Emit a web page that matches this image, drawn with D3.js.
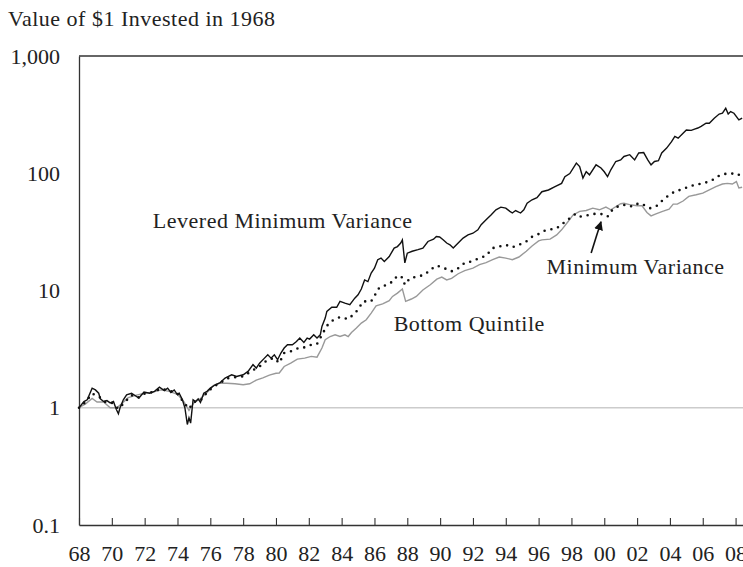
<!DOCTYPE html>
<html>
<head>
<meta charset="utf-8">
<script src="https://cdn.jsdelivr.net/npm/d3@7"></script>
<style>
  body { margin: 0; background: #fff; }
  text { font-family: "Liberation Serif", serif; fill: #222; }
</style>
</head>
<body>
<div id="chart_div"></div>
<script>
// values, [year, value of $1]
var levered = [
  [1968.0, 1.0], [1968.3, 1.13], [1968.5, 1.17], [1968.8, 1.47], [1969.0, 1.42], [1969.2, 1.33],
  [1969.3, 1.19], [1969.5, 1.13], [1969.7, 1.15], [1969.9, 1.10], [1970.1, 1.13], [1970.27, 0.97],
  [1970.4, 0.89], [1970.5, 1.0], [1970.7, 1.17], [1970.9, 1.29], [1971.2, 1.33], [1971.65, 1.21],
  [1971.96, 1.36], [1972.3, 1.33], [1972.6, 1.38], [1972.9, 1.50], [1973.2, 1.40], [1973.4, 1.47],
  [1973.6, 1.35], [1973.8, 1.42], [1974.0, 1.29], [1974.1, 1.33], [1974.3, 1.17], [1974.45, 1.0],
  [1974.6, 0.72], [1974.7, 0.82], [1974.8, 0.74], [1974.95, 1.17], [1975.1, 1.13], [1975.26, 1.19],
  [1975.4, 1.11], [1975.6, 1.33], [1975.8, 1.38], [1976.0, 1.47], [1976.3, 1.57], [1976.6, 1.64],
  [1976.9, 1.79], [1977.3, 1.91], [1977.6, 1.85], [1978.0, 1.91], [1978.3, 2.04], [1978.6, 2.33],
  [1978.8, 2.18], [1979.0, 2.4], [1979.3, 2.65], [1979.5, 2.83], [1979.7, 2.65], [1979.9, 2.83],
  [1980.1, 2.57], [1980.3, 2.93], [1980.5, 3.23], [1980.7, 3.45], [1981.0, 3.45], [1981.25, 3.67],
  [1981.45, 3.93], [1981.7, 3.6], [1981.9, 3.93], [1982.05, 3.85], [1982.3, 4.19], [1982.5, 3.93],
  [1982.7, 4.19], [1982.8, 4.94], [1983.0, 5.82], [1983.1, 6.63], [1983.4, 7.2], [1983.7, 7.2],
  [1983.9, 8.07], [1984.2, 7.8], [1984.5, 7.56], [1984.8, 8.6], [1985.0, 9.2], [1985.2, 10.3],
  [1985.4, 12.3], [1985.6, 11.9], [1985.8, 14.1], [1986.0, 15.5], [1986.2, 18.3], [1986.4, 18.9],
  [1986.6, 17.7], [1986.9, 19.5], [1987.2, 23], [1987.4, 23.7], [1987.6, 25.4], [1987.7, 27],
  [1987.85, 17.2], [1988.0, 20.8], [1988.3, 21.6], [1988.65, 22.3], [1988.95, 23], [1989.26, 26.2],
  [1989.6, 27.4], [1989.77, 28.9], [1989.97, 28.6], [1990.2, 27], [1990.4, 25.4], [1990.6, 24.5],
  [1990.8, 23], [1991.1, 25.4], [1991.4, 28], [1991.7, 29.8], [1992.0, 30.8], [1992.3, 32.9],
  [1992.5, 36.4], [1992.8, 40.1], [1993.1, 44.1], [1993.4, 48.8], [1993.7, 51.4], [1994.0, 50.4],
  [1994.25, 47.3], [1994.4, 45.8], [1994.6, 48.1], [1994.9, 45.8], [1995.1, 48.8], [1995.3, 55.5],
  [1995.6, 59.4], [1995.9, 62], [1996.2, 69.6], [1996.6, 72], [1997.0, 77], [1997.4, 82],
  [1997.6, 93.5], [1997.9, 99.5], [1998.3, 122], [1998.5, 114], [1998.7, 91], [1998.9, 103],
  [1999.1, 97], [1999.5, 118], [1999.8, 111], [2000.0, 103], [2000.2, 93.5], [2000.4, 107],
  [2000.7, 126], [2001.0, 130], [2001.2, 139], [2001.55, 144], [2001.85, 130], [2002.1, 149],
  [2002.4, 150], [2002.65, 130], [2002.85, 118], [2003.06, 126], [2003.3, 128], [2003.5, 149],
  [2003.8, 164], [2004.1, 186], [2004.3, 206], [2004.5, 199], [2004.8, 219], [2005.0, 234],
  [2005.3, 232], [2005.5, 238], [2005.7, 243], [2005.9, 251], [2006.2, 267], [2006.4, 267],
  [2006.7, 295], [2007.0, 320], [2007.2, 325], [2007.4, 358], [2007.55, 320], [2007.7, 336],
  [2007.9, 325], [2008.2, 285], [2008.4, 295]
];

var minVariance = [
  [1968.0, 1.0], [1968.4, 1.12], [1968.8, 1.32], [1969.2, 1.25], [1969.6, 1.12], [1970.0, 1.1],
  [1970.4, 0.98], [1970.8, 1.12], [1971.2, 1.28], [1971.6, 1.22], [1972.0, 1.32], [1972.5, 1.36],
  [1973.0, 1.45], [1973.5, 1.4], [1974.0, 1.32], [1974.4, 1.1], [1974.7, 0.98], [1975.0, 1.12],
  [1975.4, 1.15], [1975.8, 1.35], [1976.2, 1.52], [1976.6, 1.62], [1977.0, 1.78], [1977.5, 1.82],
  [1978.0, 1.85], [1978.5, 2.05], [1979.0, 2.25], [1979.5, 2.57], [1979.9, 2.65], [1980.2, 2.4],
  [1980.5, 2.93], [1981.0, 3.06], [1981.45, 3.27], [1981.75, 3.27], [1982.15, 3.45], [1982.5, 3.5],
  [1982.7, 3.93], [1983.1, 5.0], [1983.5, 5.63], [1983.9, 5.93], [1984.4, 5.7], [1984.7, 6.21],
  [1985.0, 6.85], [1985.3, 8.07], [1985.8, 8.07], [1986.3, 10.6], [1986.7, 11.1], [1987.1, 11.9],
  [1987.4, 13.4], [1987.7, 12.9], [1987.85, 11.2], [1988.15, 12.7], [1988.55, 13.1], [1989.05, 13.6],
  [1989.45, 15.2], [1989.8, 16.3], [1990.25, 15.5], [1990.7, 14.6], [1991.1, 15.5], [1991.5, 17.2],
  [1991.9, 17.7], [1992.4, 18.9], [1992.8, 19.8], [1993.2, 23], [1993.6, 23.7], [1994.0, 24.5],
  [1994.4, 23.4], [1994.8, 24.5], [1995.25, 26.2], [1995.6, 28.7], [1996.0, 30.3], [1996.4, 32.5],
  [1997.1, 34], [1997.5, 37.5], [1997.9, 41.4], [1998.25, 45], [1998.5, 42.7], [1998.8, 43.3],
  [1999.1, 44.1], [1999.4, 45], [1999.8, 45], [2000.2, 42.7], [2000.5, 48.8], [2000.9, 52.8],
  [2001.3, 53.8], [2001.7, 52], [2002.1, 55.5], [2002.4, 53.8], [2002.8, 50.4], [2003.2, 52.8],
  [2003.6, 59.7], [2004.0, 66], [2004.4, 71], [2004.75, 72.6], [2005.15, 77], [2005.6, 80],
  [2006.1, 82.6], [2006.55, 86.8], [2007.0, 95.3], [2007.4, 99], [2007.7, 99], [2008.05, 100],
  [2008.4, 93]
];

var bottomQuintile = [
  [1968.0, 1.0], [1968.4, 1.08], [1968.8, 1.2], [1969.1, 1.12], [1969.5, 1.12], [1969.9, 1.0],
  [1970.3, 1.0], [1970.6, 1.08], [1971.0, 1.22], [1971.5, 1.28], [1972.0, 1.33], [1972.5, 1.36],
  [1973.0, 1.42], [1973.5, 1.38], [1974.0, 1.3], [1974.4, 1.12], [1974.7, 0.95], [1975.0, 1.1],
  [1975.4, 1.2], [1975.8, 1.35], [1976.2, 1.55], [1976.6, 1.62], [1977.0, 1.62], [1977.5, 1.6],
  [1978.0, 1.57], [1978.4, 1.6], [1978.8, 1.72], [1979.2, 1.8], [1979.6, 1.9], [1980.0, 1.97],
  [1980.2, 1.98], [1980.5, 2.25], [1980.9, 2.4], [1981.3, 2.6], [1981.75, 2.65], [1982.15, 2.74],
  [1982.5, 2.7], [1982.8, 3.23], [1983.0, 3.8], [1983.3, 4.05], [1983.6, 4.19], [1983.9, 4.05],
  [1984.2, 4.19], [1984.4, 4.05], [1984.6, 4.38], [1984.9, 4.78], [1985.2, 5.27], [1985.5, 5.63],
  [1985.8, 6.42], [1986.1, 7.4], [1986.5, 7.7], [1986.9, 8.2], [1987.1, 8.9], [1987.4, 9.5],
  [1987.7, 10.3], [1987.9, 8.07], [1988.25, 8.46], [1988.55, 8.9], [1988.95, 10.1], [1989.4, 11.2],
  [1989.8, 12.5], [1990.1, 13.0], [1990.4, 12.3], [1990.7, 12.7], [1991.1, 13.9], [1991.5, 14.8],
  [1992.0, 15.5], [1992.4, 16.6], [1992.8, 17.3], [1993.2, 18.3], [1993.6, 19.3], [1994.0, 18.9],
  [1994.4, 18.3], [1994.8, 19.3], [1995.25, 21.6], [1995.6, 24], [1996.0, 26.5], [1996.2, 27],
  [1996.7, 27.4], [1997.1, 29.8], [1997.4, 32.9], [1997.8, 38.8], [1998.1, 44.1], [1998.5, 47.3],
  [1998.9, 48.1], [1999.3, 50.4], [1999.7, 48.8], [2000.1, 51.4], [2000.4, 48.8], [2001.0, 55],
  [2001.2, 55.5], [2001.6, 53.8], [2002.0, 52.8], [2002.3, 52.8], [2002.6, 46.3], [2002.85, 43.3],
  [2003.15, 45], [2003.55, 47.3], [2003.95, 49.4], [2004.2, 54.5], [2004.45, 54.5], [2004.8, 58],
  [2005.15, 63.5], [2005.6, 65.5], [2006.0, 67.6], [2006.4, 72.3], [2006.8, 77], [2007.2, 80.9],
  [2007.5, 82], [2007.8, 81], [2008.05, 85], [2008.2, 75], [2008.4, 76]
];

var xTicks = d3.range(1968, 2009, 2);
var xTickLabels = ["68", "70", "72", "74", "76", "78", "80", "82", "84", "86", "88",
  "90", "92", "94", "96", "98", "00", "02", "04", "06", "08"];
var yTicks = [0.1, 1, 10, 100, 1000];
var yTickLabels = ["0.1", "1", "10", "100", "1,000"];

// annotations anchored in data units: [year, value]
var seriesLabels = [
  {text: "Levered Minimum Variance", at: [1972.5, 34.2]},
  {text: "Minimum Variance", at: [1996.48, 13.8]},
  {text: "Bottom Quintile", at: [1987.17, 4.5]}
];
var arrowFrom = [1999.2, 20.9];
var arrowTo = [1999.8, 38.5];

var chartW = 743, chartH = 567;
var plotLeft = 79, plotTop = 56, plotBottom = 525, plotRight = 752;

var x = d3.scaleLinear().domain([1968, 2009]).range([plotLeft, plotRight]);
var y = d3.scaleLog().domain([0.1, 1000]).range([plotBottom, plotTop]);

var svg = d3.select("#chart_div")
    .append("svg")
    .attr("width", chartW)
    .attr("height", chartH);

svg.append("defs")
    .append("marker")
    .attr("id", "arrowhead")
    .attr("viewBox", "0 0 10 10")
    .attr("refX", 9)
    .attr("refY", 5)
    .attr("markerWidth", 9)
    .attr("markerHeight", 9)
    .attr("markerUnits", "userSpaceOnUse")
    .attr("orient", "auto")
    .append("path")
    .attr("d", "M0,0 L10,5 L0,10 z")
    .attr("fill", "#111");

// title
svg.append("text")
    .attr("x", 8)
    .attr("y", 26)
    .style("font-size", "22px")
    .style("letter-spacing", "0.5px")
    .text("Value of $1 Invested in 1968");

// gridline at 1
svg.append("line")
    .attr("x1", plotLeft)
    .attr("x2", plotRight)
    .attr("y1", y(1))
    .attr("y2", y(1))
    .attr("stroke", "#cccccc")
    .attr("stroke-width", 1.5);

// top border
svg.append("line")
    .attr("x1", plotLeft)
    .attr("x2", plotRight)
    .attr("y1", y(1000))
    .attr("y2", y(1000))
    .attr("stroke", "#333")
    .attr("stroke-width", 1.3);

var xAxis = svg.append("g")
    .attr("transform", "translate(0," + plotBottom + ")")
    .call(d3.axisBottom(x)
        .tickValues(xTicks)
        .tickFormat(function(d, i) { return xTickLabels[i]; })
        .tickSizeInner(-7)
        .tickSizeOuter(0)
        .tickPadding(20));
xAxis.select(".domain").attr("stroke", "#333").attr("stroke-width", 1.3);
xAxis.selectAll(".tick line").attr("stroke", "#333").attr("stroke-width", 1.1);
xAxis.selectAll(".tick text")
    .style("font-size", "22px")
    .style("font-family", "Liberation Serif, serif")
    .attr("fill", "#222");

var yAxis = svg.append("g")
    .attr("transform", "translate(" + plotLeft + ",0)")
    .call(d3.axisLeft(y)
        .tickValues(yTicks)
        .tickFormat(function(d, i) { return yTickLabels[i]; })
        .tickSize(0)
        .tickPadding(19));
yAxis.select(".domain").attr("stroke", "#333").attr("stroke-width", 1.3);
yAxis.selectAll(".tick text")
    .style("font-size", "22px")
    .style("font-family", "Liberation Serif, serif")
    .attr("fill", "#222");

var line = d3.line()
    .x(function(d) { return x(d[0]); })
    .y(function(d) { return y(d[1]); });

svg.append("path")
    .datum(bottomQuintile)
    .attr("d", line)
    .attr("fill", "none")
    .attr("stroke", "#999")
    .attr("stroke-width", 1.4);

svg.append("path")
    .datum(minVariance)
    .attr("d", line)
    .attr("fill", "none")
    .attr("stroke", "#111")
    .attr("stroke-width", 2.6)
    .attr("stroke-linecap", "round")
    .attr("stroke-dasharray", "0,7");

svg.append("path")
    .datum(levered)
    .attr("d", line)
    .attr("fill", "none")
    .attr("stroke", "#111")
    .attr("stroke-width", 1.4);

svg.selectAll(".series_label")
    .data(seriesLabels)
    .enter()
    .append("text")
    .attr("class", "series_label")
    .attr("x", function(d) { return x(d.at[0]); })
    .attr("y", function(d) { return y(d.at[1]); })
    .style("font-size", "22px")
    .style("letter-spacing", "0.5px")
    .text(function(d) { return d.text; });

svg.append("line")
    .attr("x1", x(arrowFrom[0]))
    .attr("y1", y(arrowFrom[1]))
    .attr("x2", x(arrowTo[0]))
    .attr("y2", y(arrowTo[1]))
    .attr("stroke", "#111")
    .attr("stroke-width", 1.6)
    .attr("marker-end", "url(#arrowhead)");
</script>
</body>
</html>
